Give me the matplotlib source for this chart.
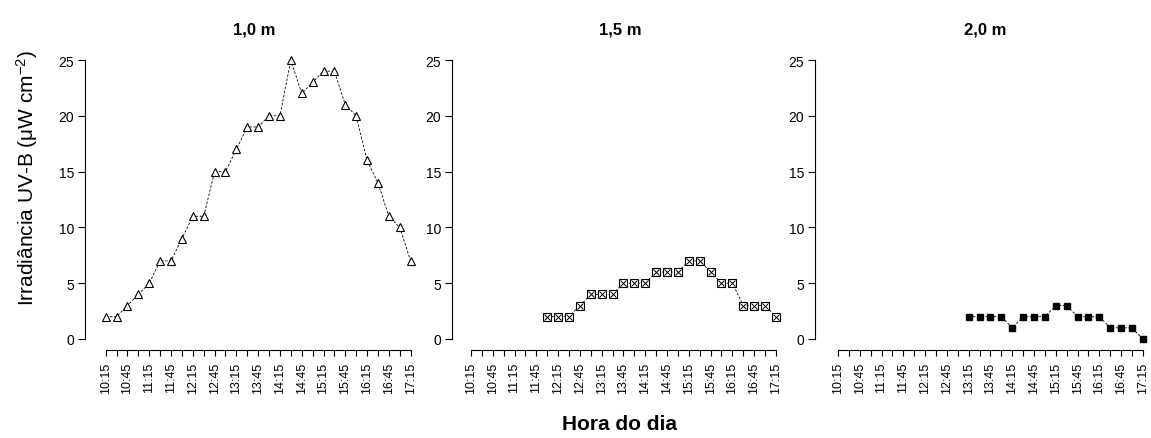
import numpy as np
import matplotlib
matplotlib.use('Agg')
import matplotlib.pyplot as plt

plt.rcParams['font.family'] = ['Liberation Sans', 'DejaVu Sans']
plt.rcParams['mathtext.default'] = 'regular'

# horários de 10:15 a 17:15, a cada 15 min
horas = ['10:15', '10:30', '10:45', '11:00', '11:15', '11:30', '11:45', '12:00',
         '12:15', '12:30', '12:45', '13:00', '13:15', '13:30', '13:45', '14:00',
         '14:15', '14:30', '14:45', '15:00', '15:15', '15:30', '15:45', '16:00',
         '16:15', '16:30', '16:45', '17:00', '17:15']

# 1,0 m (todos os horários)
uvb_10 = [2, 2, 3, 4, 5, 7, 7, 9, 11, 11, 15, 15, 17, 19, 19, 20, 20, 25, 22, 23,
          24, 24, 21, 20, 16, 14, 11, 10, 7]
# 1,5 m (de 12:00 em diante)
inicio_15 = '12:00'
uvb_15 = [2, 2, 2, 3, 4, 4, 4, 5, 5, 5, 6, 6, 6, 7, 7, 6, 5, 5, 3, 3, 3, 2]
# 2,0 m (de 13:15 em diante)
inicio_20 = '13:15'
uvb_20 = [2, 2, 2, 2, 1, 2, 2, 2, 3, 3, 2, 2, 2, 1, 1, 1, 0]

titulos = ['1,0 m', '1,5 m', '2,0 m']

W, H = 1151, 439
fig = plt.figure(figsize=(W / 100, H / 100), dpi=100)

px_unit_x = 10.89
left_px = [85, 452, 815]
first_tick_px = [105.7, 471, 838]
x_bottom_px = 351
top_px = 50
y0_px, y25_px = 340, 61
px_unit_y = (y0_px - y25_px) / 25.0

x = np.arange(len(horas))
series = [
    (x, uvb_10),
    (x[horas.index(inicio_15):], uvb_15),
    (x[horas.index(inicio_20):], uvb_20),
]

for i in range(3):
    xmin = -(first_tick_px[i] - left_px[i]) / px_unit_x
    xmax = 28 + 1.2
    width_px = (xmax - xmin) * px_unit_x
    ymin = -(x_bottom_px - y0_px) / px_unit_y
    ymax = 25 + (y25_px - top_px) / px_unit_y
    ax = fig.add_axes([left_px[i] / W, (H - x_bottom_px) / H,
                       width_px / W, (x_bottom_px - top_px) / H])
    ax.set_xlim(xmin, xmax)
    ax.set_ylim(ymin, ymax)

    xs, ys = series[i]
    if i == 0:
        ax.plot(xs, ys, ls=(0, (3, 2)), lw=0.6, color='black',
                marker='^', ms=5.8, mfc='white', mec='black', mew=0.8)
    elif i == 1:
        ax.plot(xs, ys, ls=(0, (3, 2)), lw=0.6, color='black',
                marker='s', ms=5.6, mfc='white', mec='black', mew=0.8)
        ax.plot(xs, ys, ls='none', marker='x', ms=3.8, color='black', mew=0.7)
    else:
        ax.plot(xs, ys, ls=(0, (3, 2)), lw=0.6, color='black',
                marker='s', ms=4.8, mfc='black', mec='black')

    for s in ['top', 'right']:
        ax.spines[s].set_visible(False)
    ax.spines['left'].set_bounds(0, 25)
    ax.spines['bottom'].set_bounds(0, 28)
    ax.spines['left'].set_linewidth(0.8)
    ax.spines['bottom'].set_linewidth(0.8)

    ax.set_yticks([0, 5, 10, 15, 20, 25])
    ax.set_xticks(x)
    ax.set_xticklabels([h if k % 2 == 0 else '' for k, h in enumerate(horas)],
                       rotation=90, fontsize=9)
    ax.tick_params(axis='y', labelsize=10, length=5, width=0.8, pad=3)
    ax.tick_params(axis='x', length=4.3, width=0.8, pad=4)

    ax.set_title(titulos[i], fontsize=12, fontweight='bold', pad=11)

fig.text(27 / W, 1 - 178 / H, 'Irradiância UV-B (μW cm$^{-2}$)',
         rotation=90, ha='center', va='center', fontsize=15)

fig.text(620 / W, 1 - 425 / H, 'Hora do dia', ha='center', va='center',
         fontsize=15, fontweight='bold')

fig.savefig('out.png', dpi=100, facecolor='white')
